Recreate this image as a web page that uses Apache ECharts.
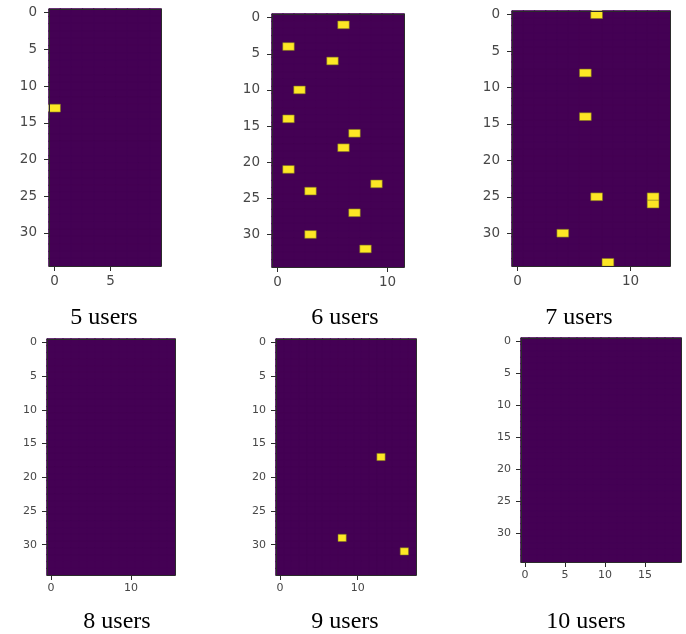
<!DOCTYPE html>
<html>
<head>
<meta charset="utf-8">
<script src="https://cdn.jsdelivr.net/npm/echarts@6/dist/echarts.min.js"></script>
<style>
  html, body { margin: 0; padding: 0; background: #fff; }
  #chart { width: 686px; height: 634px; }
</style>
</head>
<body>
<div id="chart"></div>
<script>
// Channel occupancy maps: 35 rows (time slots) by N columns, one panel per user count.
const panelLabels = ['5 users', '6 users', '7 users', '8 users', '9 users', '10 users'];
const rowCount = 35;
const columnCounts = [10, 12, 14, 16, 18, 20];

// Occupied cells as [column, row]
const cells5 = [[0, 13]];
const cells6 = [[6, 1], [1, 4], [5, 6], [2, 10], [1, 14], [7, 16], [6, 18], [1, 21], [9, 23], [3, 24], [7, 27], [3, 30], [8, 32]];
const cells7 = [[7, 0], [6, 8], [6, 14], [7, 25], [12, 25], [12, 26], [4, 30], [8, 34]];
const cells8 = [];
const cells9 = [[13, 17], [8, 29], [16, 31]];
const cells10 = [];
const occupied = [cells5, cells6, cells7, cells8, cells9, cells10];

// Tick label steps along x for each panel; y ticks every 5 rows
const xTickSteps = [5, 10, 10, 10, 10, 5];
const yTickStep = 5;

// Panel geometry (pixels)
const panels = [
  { left: 49,  top: 9,   width: 112, height: 257, label: [104, 318], big: true },
  { left: 272, top: 14,  width: 132, height: 253, label: [345, 318], big: true },
  { left: 512, top: 11,  width: 158, height: 255, label: [579, 318], big: true },
  { left: 47,  top: 339, width: 128, height: 236, label: [117, 621.5], big: false },
  { left: 276, top: 339, width: 140, height: 236, label: [345, 621.5], big: false },
  { left: 521, top: 338, width: 160, height: 224, label: [586, 621.5], big: false }
];

const spineColor = '#2b2b2b';
const tickTextColor = '#474747';
const LOW = '#440154';
const HIGH = '#fde725';

const grids = [], xAxes = [], yAxes = [], series = [], titles = [];
const edgeX = [], edgeY = [];

panels.forEach((p, i) => {
  const nCols = columnCounts[i];
  const colNames = Array.from({ length: nCols }, (_, k) => String(k));
  const rowNames = Array.from({ length: rowCount }, (_, k) => String(k));
  const fs = p.big ? 13.5 : 11;
  const xStep = xTickSteps[i];

  grids.push({ left: p.left, top: p.top, width: p.width, height: p.height, containLabel: false });

  xAxes.push({
    type: 'category', gridIndex: i, data: colNames, position: 'bottom', z: 5,
    axisLine: { show: true, lineStyle: { color: spineColor, width: 1 } },
    axisTick: { show: true, alignWithLabel: true, length: 5,
      interval: (idx) => idx % xStep === 0, lineStyle: { color: spineColor } },
    axisLabel: { interval: (idx) => idx % xStep === 0, margin: 8, fontSize: fs,
      color: tickTextColor, fontFamily: 'DejaVu Sans' },
    splitLine: { show: false }
  });
  yAxes.push({
    type: 'category', gridIndex: i, data: rowNames, inverse: true, position: 'left', z: 5,
    axisLine: { show: true, lineStyle: { color: spineColor, width: 1 } },
    axisTick: { show: true, alignWithLabel: true, length: 5,
      interval: (idx) => idx % yTickStep === 0, lineStyle: { color: spineColor } },
    axisLabel: { interval: (idx) => idx % yTickStep === 0, margin: p.big ? 12 : 10, fontSize: fs,
      color: tickTextColor, fontFamily: 'DejaVu Sans' },
    splitLine: { show: false }
  });
  // Top and right frame lines
  edgeX.push({
    type: 'category', gridIndex: i, data: colNames, position: 'top', z: 5,
    axisLine: { show: true, lineStyle: { color: spineColor, width: 1 } },
    axisTick: { show: false }, axisLabel: { show: false }, splitLine: { show: false }
  });
  edgeY.push({
    type: 'category', gridIndex: i, data: rowNames, inverse: true, position: 'right', z: 5,
    axisLine: { show: true, lineStyle: { color: spineColor, width: 1 } },
    axisTick: { show: false }, axisLabel: { show: false }, splitLine: { show: false }
  });

  // Full matrix: 0 = idle, 1 = occupied
  const hot = new Set(occupied[i].map(([c, r]) => c + ',' + r));
  const data = [];
  for (let r = 0; r < rowCount; r++) {
    for (let c = 0; c < nCols; c++) {
      if (!hot.has(c + ',' + r)) {
        data.push({ value: [c, r, 0], itemStyle: { borderColor: LOW, borderWidth: 1 } });
      }
    }
  }
  occupied[i].forEach(([c, r]) => {
    data.push({ value: [c, r, 1], itemStyle: { borderColor: 'rgba(120,110,35,0.7)', borderWidth: 0.8 } });
  });

  series.push({
    type: 'heatmap', xAxisIndex: i, yAxisIndex: i, data: data,
    emphasis: { disabled: true }, silent: true, progressive: 0
  });

  titles.push({
    text: panelLabels[i], left: p.label[0], top: p.label[1], padding: 0,
    textAlign: 'center', textVerticalAlign: 'middle',
    textStyle: { fontFamily: 'Liberation Serif', fontSize: 24, fontWeight: 'normal', color: '#000' }
  });
});

const chart = echarts.init(document.getElementById('chart'), null, { renderer: 'canvas' });
chart.setOption({
  animation: false,
  backgroundColor: '#fff',
  title: titles,
  grid: grids,
  xAxis: xAxes.concat(edgeX),
  yAxis: yAxes.concat(edgeY),
  visualMap: {
    type: 'piecewise', show: false, dimension: 2,
    seriesIndex: series.map((_, k) => k),
    pieces: [{ value: 0, color: LOW }, { value: 1, color: HIGH }]
  },
  series: series
});
</script>
</body>
</html>
